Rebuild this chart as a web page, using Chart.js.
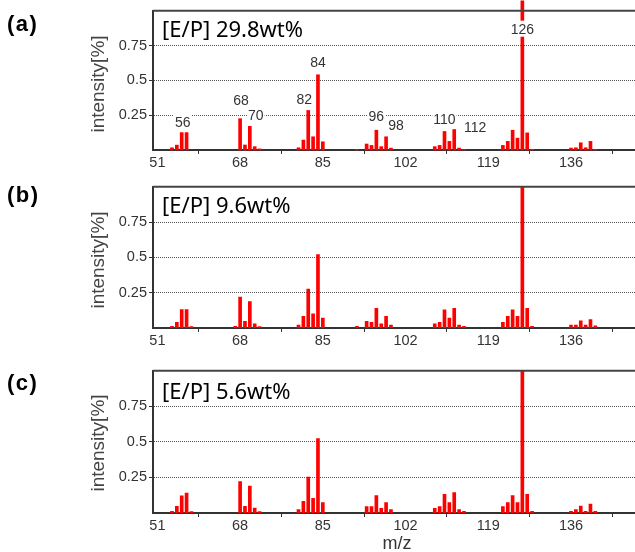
<!DOCTYPE html>
<html>
<head>
<meta charset="utf-8">
<script src="https://cdn.jsdelivr.net/npm/chart.js@4.4.0/dist/chart.umd.min.js"></script>
<style>
  html, body { margin: 0; padding: 0; overflow: hidden; background: #fff; }
  #wrap { width: 635px; height: 552px; position: relative; overflow: hidden; }
  canvas { position: absolute; left: 0; }
  .txt { position: absolute; white-space: nowrap; transform: translateY(-50%); }
  .letter { font: bold 22px "Liberation Sans", sans-serif; letter-spacing: 1.5px; color: #000; left: 7px; }
  .title { font: 22px "Noto Sans", sans-serif; color: #000; left: 162px; }
  .ylab { font: 19px "Liberation Sans", sans-serif; color: #444; transform: translate(-50%, -50%) rotate(-90deg); }
  .xlab { font: 18px "Liberation Sans", sans-serif; color: #333; transform: translate(-50%, -50%); }
</style>
</head>
<body>
<div id="wrap">
<canvas id="chartA" width="700" height="176" style="top:0px"></canvas>
<canvas id="chartB" width="700" height="178" style="top:176px"></canvas>
<canvas id="chartC" width="700" height="179" style="top:360px"></canvas>

<div class="txt letter" style="top:24px">(a)</div>
<div class="txt letter" style="top:195px">(b)</div>
<div class="txt letter" style="top:383px">(c)</div>

<div class="txt title" style="top:28px">[E/P] 29.8wt%</div>
<div class="txt title" style="top:204px">[E/P] 9.6wt%</div>
<div class="txt title" style="top:390px">[E/P] 5.6wt%</div>

<div class="txt ylab" style="left:98px;top:84px">intensity[%]</div>
<div class="txt ylab" style="left:98px;top:260px">intensity[%]</div>
<div class="txt ylab" style="left:98px;top:443px">intensity[%]</div>

<div class="txt xlab" style="left:397px;top:543px">m/z</div>
</div>

<script>
// m/z positions of the peaks (shared by all three spectra)
const mz = [54, 55, 56, 57, 58, 67, 68, 69, 70, 71, 72, 80, 81, 82, 83, 84, 85,
            92, 94, 95, 96, 97, 98, 99, 108, 109, 110, 111, 112, 113, 114,
            122, 123, 124, 125, 126, 127, 128, 136, 137, 138, 139, 140, 141];

// intensities
const intensA = [0.016, 0.035, 0.125, 0.125, 0, 0, 0.225, 0.036, 0.17, 0.024, 0.008,
                 0.016, 0.071, 0.284, 0.095, 0.54, 0.059,
                 0.005, 0.043, 0.033, 0.142, 0.024, 0.095, 0.014,
                 0.024, 0.033, 0.133, 0.062, 0.147, 0.014, 0.005,
                 0.033, 0.062, 0.142, 0.085, 1.07, 0.123, 0.005,
                 0.014, 0.016, 0.052, 0.016, 0.062, 0.005];
const intensB = [0.012, 0.04, 0.13, 0.13, 0.01, 0.012, 0.218, 0.047, 0.187, 0.03, 0.01,
                 0.021, 0.082, 0.276, 0.1, 0.52, 0.07,
                 0.012, 0.047, 0.04, 0.14, 0.03, 0.082, 0.021,
                 0.03, 0.04, 0.129, 0.07, 0.14, 0.021, 0.012,
                 0.04, 0.082, 0.129, 0.082, 1.0, 0.14, 0.012,
                 0.021, 0.021, 0.05, 0.021, 0.06, 0.015];
const intensC = [0.012, 0.047, 0.12, 0.14, 0.01, 0, 0.22, 0.047, 0.19, 0.035, 0.01,
                 0.024, 0.082, 0.252, 0.103, 0.523, 0.073,
                 0, 0.045, 0.045, 0.122, 0.033, 0.073, 0.024,
                 0.033, 0.045, 0.131, 0.073, 0.143, 0.024, 0.012,
                 0.045, 0.073, 0.122, 0.073, 1.0, 0.131, 0.012,
                 0.012, 0.024, 0.049, 0.012, 0.063, 0.012];

// axis ticks
const xTicks = [51, 68, 85, 102, 119, 136];
const yTicks = [0.25, 0.5, 0.75];

// peaks that carry an m/z label in panel (a)
const labelledPeaks = [56, 68, 70, 82, 84, 96, 98, 110, 112, 126];

// label nudges in px [dx, gap above bar top]
const labelNudge = {
    56: [1, 10], 68: [1, 19], 70: [6, 11], 82: [-4, 11], 84: [0, 13],
    96: [0, 14], 98: [10, 12], 110: [0, 12], 112: [21, 2], 126: [0, -18]
};

// top edge of the plot frame (right edge lies outside the picture)
const boxPlugin = {
    id: 'box',
    afterDraw(chart) {
        const a = chart.chartArea;
        const ctx = chart.ctx;
        ctx.save();
        ctx.strokeStyle = '#444';
        ctx.lineWidth = 2;
        ctx.beginPath();
        ctx.moveTo(a.left, a.top);
        ctx.lineTo(a.right, a.top);
        ctx.stroke();
        ctx.restore();
    }
};

const peakLabelPlugin = {
    id: 'peakLabels',
    afterDatasetsDraw(chart, args, opts) {
        if (!opts.show) return;
        const ctx = chart.ctx;
        const xs = chart.scales.x, ys = chart.scales.y;
        const vals = chart.data.datasets[0].data;
        ctx.save();
        ctx.font = '14px "Liberation Sans", sans-serif';
        ctx.textAlign = 'center';
        ctx.textBaseline = 'middle';
        labelledPeaks.forEach(p => {
            const pt = vals.find(d => d.x === p);
            const nudge = labelNudge[p] || [0, 12];
            const x = xs.getPixelForValue(p) + nudge[0];
            const top = Math.max(ys.getPixelForValue(pt.y), chart.chartArea.top);
            const y = top - nudge[1];
            const txt = String(p);
            const w = ctx.measureText(txt).width;
            ctx.fillStyle = '#fff';
            ctx.fillRect(x - w / 2 - 1, y - 8, w + 2, 16);
            ctx.fillStyle = '#333';
            ctx.fillText(txt, x, y + 1);
        });
        ctx.restore();
    }
};

function makeSpectrum(id, values, withLabels) {
    const pts = [];
    mz.forEach((m, i) => {
        if (values[i] > 0) pts.push({ x: m, y: values[i] });
    });
    const tickFont = { family: 'Liberation Sans', size: 14.5 };
    return new Chart(document.getElementById(id), {
        type: 'bar',
        data: {
            datasets: [{
                data: pts,
                backgroundColor: '#ff0000',
                barThickness: 3,
                clip: withLabels ? false : undefined
            }]
        },
        plugins: [boxPlugin, peakLabelPlugin],
        options: {
            responsive: false,
            animation: false,
            layout: { padding: { top: 10, right: 1, left: 0, bottom: 0 } },
            plugins: {
                legend: { display: false },
                tooltip: { enabled: false },
                peakLabels: { show: withLabels }
            },
            scales: {
                x: {
                    type: 'linear',
                    min: 50.1,
                    max: 162.3,
                    offset: false,
                    afterBuildTicks: s => { s.ticks = xTicks.map(v => ({ value: v })); },
                    afterFit: s => { s.height = 26; },
                    ticks: {
                        color: '#333',
                        font: tickFont,
                        padding: 0,
                        maxRotation: 0,
                        autoSkip: false,
                        callback: v => String(v)
                    },
                    grid: {
                        drawOnChartArea: false,
                        drawTicks: true,
                        tickLength: 4,
                        tickColor: '#333',
                        tickWidth: 1
                    },
                    border: { color: '#333', width: 2 }
                },
                y: {
                    min: 0,
                    max: 1,
                    afterBuildTicks: s => { s.ticks = yTicks.map(v => ({ value: v })); },
                    afterFit: s => { s.width = 153; },
                    ticks: {
                        color: '#333',
                        font: tickFont,
                        padding: 2,
                        callback: v => String(v)
                    },
                    grid: {
                        color: '#555',
                        lineWidth: 1,
                        tickLength: 4,
                        tickColor: '#333',
                        tickBorderDash: []
                    },
                    border: { color: '#333', width: 2, dash: [1, 1] }
                }
            }
        }
    });
}

makeSpectrum('chartA', intensA, true);
makeSpectrum('chartB', intensB, false);
makeSpectrum('chartC', intensC, false);
</script>
</body>
</html>
